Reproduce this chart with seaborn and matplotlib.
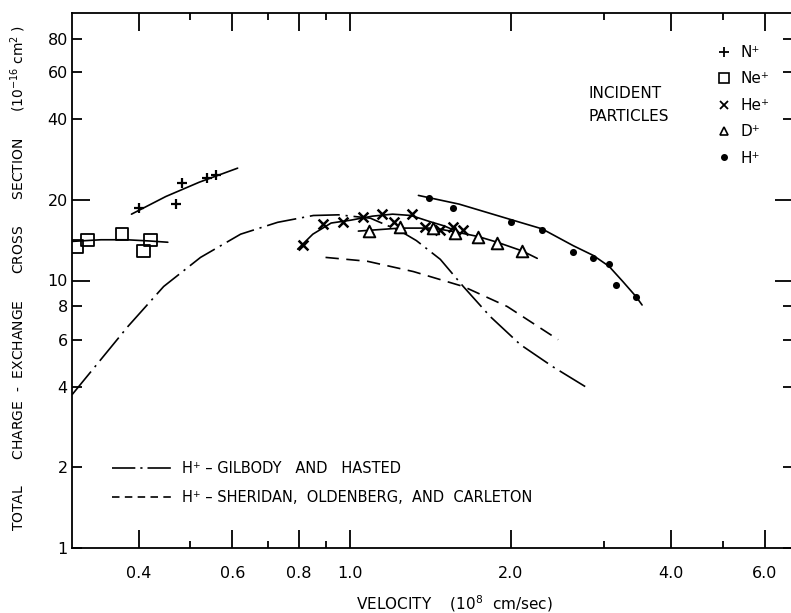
import matplotlib
matplotlib.use("Agg")
import matplotlib.pyplot as plt
from matplotlib.lines import Line2D
from matplotlib.ticker import NullFormatter
import seaborn as sns

# ---------------- data (velocity in 1e8 cm/s, cross section in 1e-16 cm^2) ----
ne_v = [0.306, 0.321, 0.372, 0.409, 0.421]
ne_s = [13.4, 14.2, 14.9, 12.9, 14.2]
ne_fit_v = [0.30, 0.34, 0.38, 0.42, 0.454]
ne_fit_s = [14.0, 14.2, 14.2, 14.05, 13.9]

n_v = [0.400, 0.470, 0.482, 0.537, 0.558]
n_s = [18.6, 19.4, 23.1, 24.1, 24.7]
n_fit_v = [0.388, 0.45, 0.52, 0.614]
n_fit_s = [17.7, 20.6, 23.3, 26.3]

he_v = [0.816, 0.890, 0.970, 1.058, 1.148, 1.209, 1.307, 1.382, 1.475, 1.561, 1.63]
he_s = [13.6, 16.3, 16.6, 17.2, 17.7, 16.6, 17.7, 15.9, 15.5, 15.9, 15.5]
he_fit_v = [0.796, 0.85, 0.92, 1.0, 1.1, 1.2, 1.3, 1.41, 1.5, 1.58]
he_fit_s = [13.1, 14.9, 16.4, 16.8, 17.4, 17.7, 17.5, 16.6, 16.0, 15.3]

d_v = [1.085, 1.241, 1.431, 1.574, 1.738, 1.887, 2.102]
d_s = [15.3, 15.8, 15.7, 15.1, 14.5, 13.8, 12.9]
d_fit_v = [1.035, 1.24, 1.43, 1.574, 1.738, 1.887, 2.102, 2.243]
d_fit_s = [15.3, 15.7, 15.7, 15.2, 14.6, 13.9, 12.9, 12.1]

h_v = [1.406, 1.561, 2.005, 2.29, 2.62, 2.86, 3.06, 3.16, 3.44]
h_s = [20.3, 18.6, 16.6, 15.5, 12.8, 12.1, 11.5, 9.66, 8.64]
h_fit_v = [1.342, 1.6, 2.0, 2.29, 2.62, 2.86, 3.06, 3.25, 3.44, 3.53]
h_fit_s = [20.8, 19.3, 16.9, 15.6, 13.5, 12.4, 11.3, 9.9, 8.7, 8.1]

gil_v = [0.30, 0.382, 0.446, 0.523, 0.622, 0.730, 0.852, 0.95, 1.09, 1.241,
         1.33, 1.475, 1.629, 1.831, 2.085, 2.40, 2.82]
gil_s = [3.74, 6.73, 9.5, 12.2, 14.9, 16.5, 17.5, 17.6, 17.1, 15.3,
         14.1, 12.0, 9.5, 7.33, 5.76, 4.76, 3.91]

sher_v = [0.898, 1.076, 1.313, 1.629, 1.971, 2.456]
sher_s = [12.2, 11.8, 10.8, 9.5, 7.99, 6.01]

x_major = [0.4, 0.6, 0.8, 1.0, 2.0, 4.0, 6.0]
x_major_labels = ["0.4", "0.6", "0.8", "1.0", "2.0", "4.0", "6.0"]
x_minor = [0.5, 0.7, 0.9, 3.0, 5.0]
y_major = [10, 20]
y_major_labels = ["10", "20"]
y_minor = [1, 2, 4, 6, 8, 40, 60, 80]
y_minor_labels = ["1", "2", "4", "6", "8", "40", "60", "80"]

# ---------------- style ----------------
sns.set_style("ticks")
plt.rcParams["font.family"] = ["DejaVu Sans"]
plt.rcParams["axes.linewidth"] = 1.3
for key in ["text.color", "axes.labelcolor", "xtick.color", "ytick.color",
            "axes.edgecolor"]:
    plt.rcParams[key] = "black"

fig = plt.figure(figsize=(7.91, 6.13), dpi=100)
ax = fig.add_axes([72 / 791, 65 / 613, 721 / 791, 535 / 613])
ax.set_xscale("log")
ax.set_yscale("log")

K = "black"
LW = 1.2
dashdot = (0, (18, 3.5, 1.3, 3.5))
dashed = (0, (8, 4.5))

def fit(v, s, ls="-"):
    sns.lineplot(x=v, y=s, ax=ax, color=K, lw=LW, linestyle=ls,
                 estimator=None, sort=False)

fit(ne_fit_v, ne_fit_s)
fit(n_fit_v, n_fit_s)
fit(he_fit_v, he_fit_s)
fit(d_fit_v, d_fit_s)
fit(h_fit_v, h_fit_s)
fit(gil_v, gil_s, dashdot)
fit(sher_v, sher_s, dashed)

sns.scatterplot(x=ne_v, y=ne_s, ax=ax, marker="s", s=80, facecolors="none",
                edgecolor=K, linewidth=1.3, zorder=3)
sns.scatterplot(x=n_v, y=n_s, ax=ax, marker="+", s=60, color=K,
                linewidth=1.6, zorder=3)
sns.scatterplot(x=he_v, y=he_s, ax=ax, marker="x", s=50, color=K,
                linewidth=1.8, zorder=3)
sns.scatterplot(x=d_v, y=d_s, ax=ax, marker="^", s=70, facecolors="white",
                edgecolor=K, linewidth=1.4, zorder=3)
sns.scatterplot(x=h_v, y=h_s, ax=ax, marker="o", s=26, color=K,
                edgecolor=K, linewidth=0, zorder=3)

ax.set_xlim(0.3, 6.78)
ax.set_ylim(1, 100)

ax.set_xticks(x_major, labels=x_major_labels)
ax.set_xticks(x_minor, minor=True)
ax.xaxis.set_minor_formatter(NullFormatter())
ax.set_yticks(y_major, labels=y_major_labels)
ax.set_yticks(y_minor, minor=True, labels=y_minor_labels)

ax.tick_params(axis="both", which="both", direction="in", top=True,
               right=True, width=1.3, colors=K, labelsize=11.5)
ax.tick_params(axis="x", which="major", length=13, pad=13)
ax.tick_params(axis="x", which="minor", length=5, pad=13)
ax.tick_params(axis="y", which="major", length=13, pad=3)
ax.tick_params(axis="y", which="minor", length=7, pad=3)

ax.set_xlabel("VELOCITY    (10$^8$  cm/sec)", fontsize=11)
ax.xaxis.set_label_coords(0.531, -0.084)
ax.set_ylabel("TOTAL      CHARGE  -  EXCHANGE      CROSS      SECTION      (10$^{-16}$ cm$^2$ )",
              fontsize=10)
ax.yaxis.set_label_coords(-0.061, 0.505)

# particle legend
ph = [
    Line2D([], [], ls="none", marker="+", ms=7, mew=1.3, color=K),
    Line2D([], [], ls="none", marker="s", ms=7, mew=1.2, mfc="none", color=K),
    Line2D([], [], ls="none", marker="x", ms=5.5, mew=1.3, color=K),
    Line2D([], [], ls="none", marker="^", ms=6, mew=1.2, mfc="none", color=K),
    Line2D([], [], ls="none", marker="o", ms=4, color=K),
]
leg1 = ax.legend(ph, ["N⁺", "Ne⁺", "He⁺", "D⁺", "H⁺"], loc="upper left",
                 bbox_to_anchor=(716 / 791, 1 - 45 / 613),
                 bbox_transform=fig.transFigure, frameon=False,
                 handlelength=1.0, handletextpad=0.6, labelspacing=0.75,
                 fontsize=11, borderaxespad=0, borderpad=0)
ax.add_artist(leg1)
ax.text(588 / 791, 1 - 105 / 613, "INCIDENT\nPARTICLES", transform=fig.transFigure,
        fontsize=11, va="center", ha="left", linespacing=1.6)

lh = [Line2D([], [], color=K, lw=LW, ls=(0, (14, 3, 1.3, 3))),
      Line2D([], [], color=K, lw=LW, ls=(0, (4.5, 3.2)))]
ax.legend(lh, ["H⁺ – GILBODY   AND   HASTED",
               "H⁺ – SHERIDAN,  OLDENBERG,  AND  CARLETON"],
          loc="upper left", bbox_to_anchor=(112 / 791, 1 - 461 / 613),
          bbox_transform=fig.transFigure, frameon=False,
          handlelength=4.2, handletextpad=0.6, labelspacing=0.95,
          fontsize=10.5, borderaxespad=0, borderpad=0)

fig.savefig("out.png", dpi=100)
